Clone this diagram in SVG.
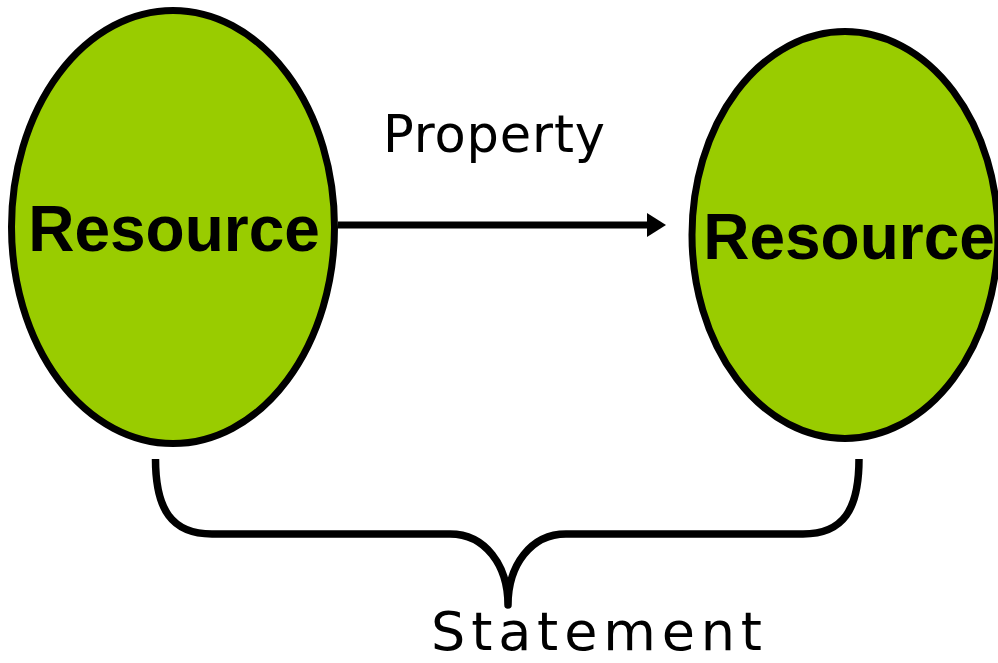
<svg xmlns="http://www.w3.org/2000/svg" width="998" height="663" viewBox="0 0 998 663">
  <style>
    .res { fill: #99cc00; stroke: #000; stroke-width: 7; }
    .res-label { font-family: "Liberation Sans", Arial, sans-serif; font-weight: bold; font-size: 64px; fill: #000; text-anchor: middle; }
    .label { font-family: "DejaVu Sans", Verdana, sans-serif; fill: #000; }
    .edge { stroke: #000; stroke-width: 7; fill: none; }
    .brace { stroke: #000; stroke-width: 7.5; fill: none; stroke-linejoin: round; }
  </style>
  <defs>
    <marker id="arrowhead" markerUnits="userSpaceOnUse" markerWidth="20" markerHeight="26" refX="0" refY="12" orient="auto">
      <path d="M0,0 L19,12 L0,24 Z" fill="#000"/>
    </marker>
  </defs>
  <rect width="998" height="663" fill="#fff"/>

  <g id="subject">
    <ellipse class="res" cx="173" cy="227" rx="161.5" ry="216.5"/>
    <text class="res-label" x="174" y="251">Resource</text>
  </g>

  <g id="object">
    <ellipse class="res" cx="845" cy="235" rx="153" ry="203.5"/>
    <text class="res-label" x="849" y="259">Resource</text>
  </g>

  <g id="connectors">
    <line class="edge" x1="338" y1="225" x2="647" y2="225" marker-end="url(#arrowhead)"/>
    <text class="label" x="383" y="152" font-size="51" textLength="222">Property</text>
    <!-- curly brace grouping both resources -->
    <path class="brace" d="M155.5,459 C155.5,510 172,534 212,534 L450,534 C485,534 508,565 508,605 C508,565 531,534 566,534 L803,534 C843,534 859,510 859,459"/>
    <text class="label" x="431" y="650" font-size="54" textLength="331">Statement</text>
  </g>
</svg>
